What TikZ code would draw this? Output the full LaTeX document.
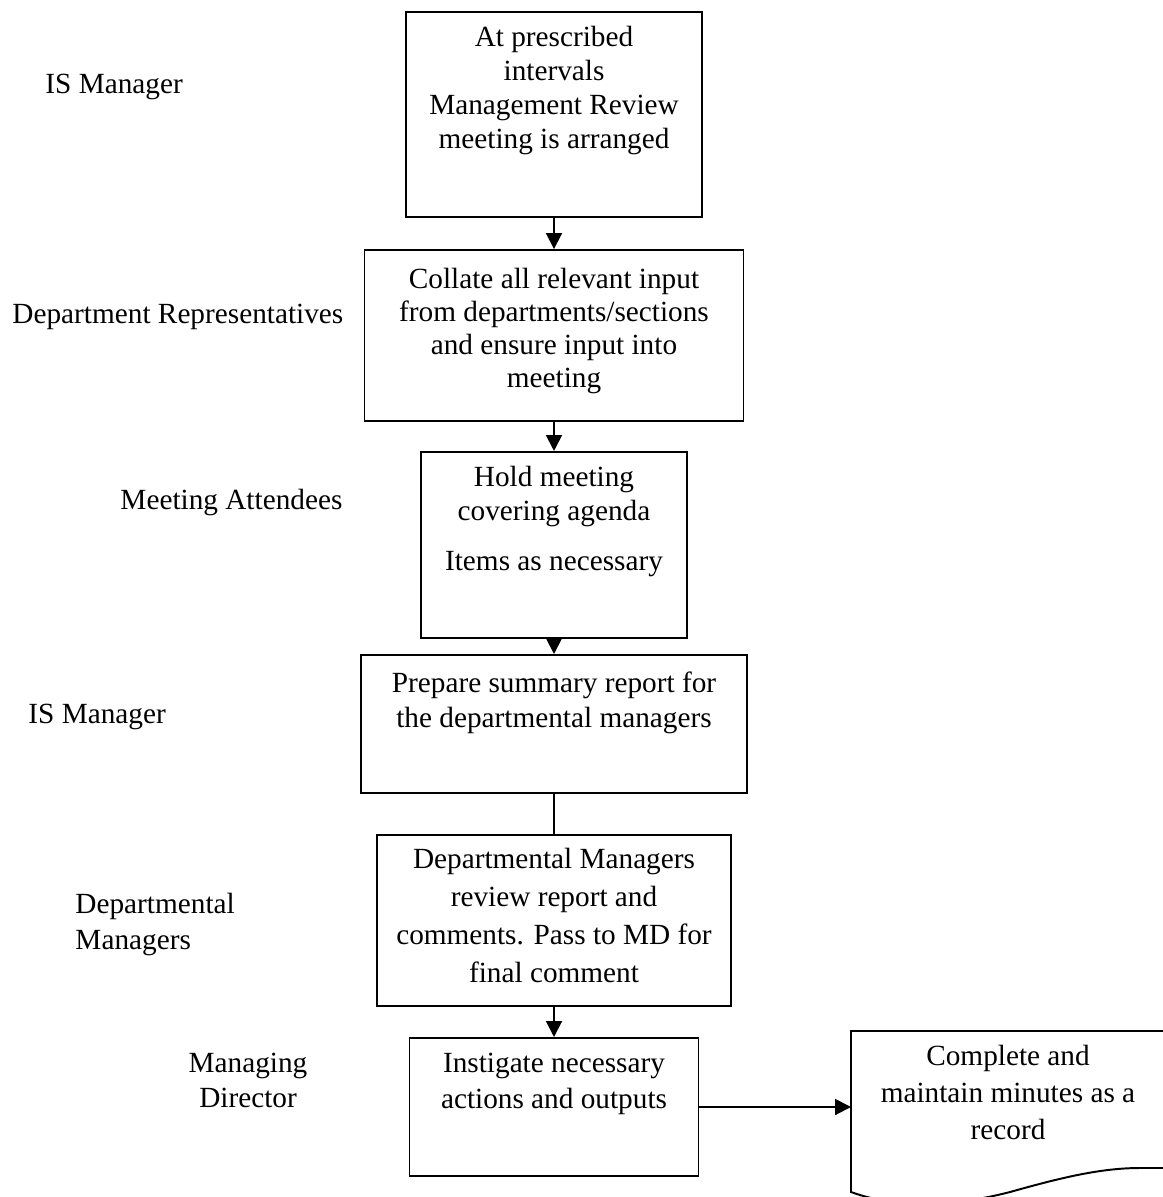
\documentclass[tikz,border=0pt]{standalone}
\usepackage{fontspec}
\setmainfont{Liberation Serif}
\usetikzlibrary{positioning,arrows.meta}

\begin{document}
\begin{tikzpicture}[x=0.41pt,y=-0.41pt,
    every node/.style={font=\fontsize{12}{14}\selectfont},
    stepbox/.style={draw,line width=0.8pt,inner sep=0pt},
    boxtext/.style={align=center,inner sep=0pt},
    role/.style={anchor=west,inner sep=0pt},
    flow/.style={line width=0.8pt,-{Triangle[length=6.5pt,width=6.5pt]}},
    link/.style={line width=0.8pt}]
  \useasboundingbox (0,0) rectangle (1163,1197);

  % roles on the left
  \node[role] (r1) at (45,87) {IS Manager};
  \node[role] (r2) at (12,317) {Department Representatives};
  \node[role] (r3) at (120,502) {Meeting Attendees};
  \node[role] (r4) at (28,717) {IS Manager};
  \node[role,align=left,font=\fontsize{12}{14.4}\selectfont] (r5) at (75,924.5) {Departmental\\Managers};
  \node[align=center,inner sep=0pt,font=\fontsize{12}{14.4}\selectfont] (r6) at (248,1080.5) {Managing\\Director};

  % process boxes
  \node[stepbox,minimum width=121.4pt,minimum height=84.1pt] (b1) at (554,114.5) {};
  \node[stepbox,minimum width=155.4pt,minimum height=70.1pt] (b2) at (554,335.5) {};
  \node[stepbox,minimum width=108.7pt,minimum height=76.3pt] (b3) at (554,545) {};
  \node[stepbox,minimum width=157.9pt,minimum height=56.6pt] (b4) at (554,724) {};
  \node[stepbox,minimum width=145.1pt,minimum height=70.1pt] (b5) at (554,920.5) {};
  \node[stepbox,minimum width=118.5pt,minimum height=56.6pt] (b6) at (554,1107) {};

  \node[boxtext,below=6.2pt of b1.north,font=\fontsize{12}{13.9}\selectfont] (t1)
    {At prescribed\\intervals\\Management Review\\meeting is arranged};
  \node[boxtext,below=7.6pt of b2.north,font=\fontsize{12}{13.6}\selectfont] (t2)
    {Collate all relevant input\\from departments/sections\\and ensure input into\\meeting};
  \node[boxtext,below=6.2pt of b3.north,font=\fontsize{12}{13.6}\selectfont] (t3)
    {Hold meeting\\covering agenda\\[7pt]Items as necessary};
  \node[boxtext,below=7pt of b4.north,font=\fontsize{12}{14.4}\selectfont] (t4)
    {Prepare summary report for\\the departmental managers};
  \node[boxtext,below=5.7pt of b5.north,font=\fontsize{12}{15.5}\selectfont] (t5)
    {Departmental Managers\\review report and\\comments. Pass to MD for\\final comment};
  \node[boxtext,below=6.6pt of b6.north,font=\fontsize{12}{14.4}\selectfont] (t6)
    {Instigate necessary\\actions and outputs};

  % document shape, cut by the page edge
  \begin{scope}
    \clip (0,0) rectangle (1163,1197);
    \draw[link] (851,1192) -- (851,1031) -- (1180,1031) -- (1180,1168) -- (1140,1168)
      .. controls (1100,1168) and (1060,1178) .. (1010,1192)
      .. controls (960,1205) and (900,1210) .. (851,1192) -- cycle;
  \end{scope}
  \coordinate (docin) at (851,1107);
  \node[boxtext,anchor=north,font=\fontsize{12}{15.2}\selectfont] (t7) at (1008,1045)
    {Complete and\\maintain minutes as a\\record};

  % connectors
  \draw[flow] (b1) -- (b2);
  \draw[flow] (b2) -- (b3);
  \draw[flow] (b3) -- (b4);
  \draw[link] (b4) -- (b5);
  \draw[flow] (b5) -- (b6);
  \draw[flow] (b6) -- (docin);
\end{tikzpicture}
\end{document}
